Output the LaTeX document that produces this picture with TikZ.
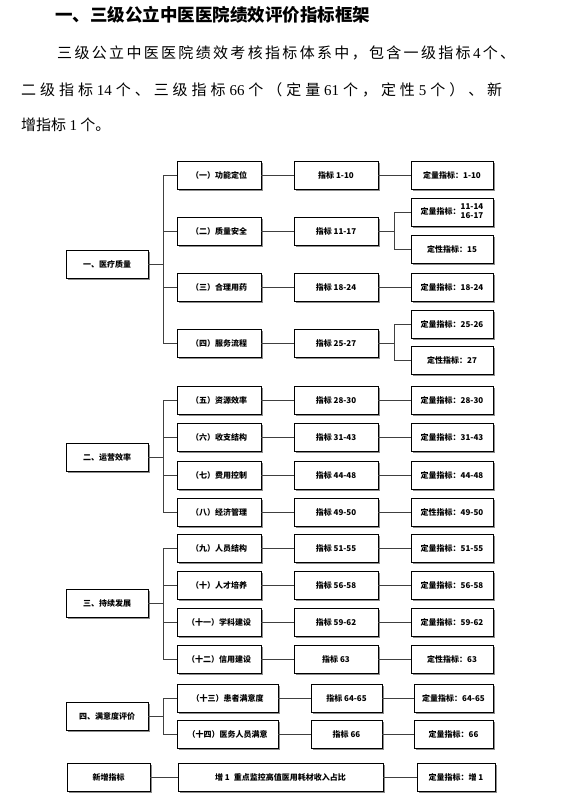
\documentclass[tikz,border=0pt]{standalone}
\usepackage{fontspec}
\newfontfamily\cjk{Noto Sans CJK SC}
\newfontfamily\lat{Liberation Serif}
\usetikzlibrary{positioning,shadows}

% spread the glyphs of a line evenly over a given width
\def\spreadit#1{\spreadA#1\relax}
\def\spreadA#1{\ifx\relax#1\else{#1}\hfil\expandafter\spreadA\fi}

\begin{document}
\begin{tikzpicture}[
      x=1pt, y=-1pt,
      every node/.style={font=\cjk\bfseries\fontsize{8}{9.5}\selectfont},
      box/.style={draw, fill=white, line width=0.75pt, minimum height=28pt, inner sep=1pt,
        drop shadow={shadow xshift=1.6pt, shadow yshift=-1.6pt, fill=black!45, opacity=1}},
      lvlone/.style={box, minimum width=82pt},
      lvltwo/.style={box, minimum width=84pt},
      lvlthree/.style={box, minimum width=84pt},
      lvlfour/.style={box, minimum width=82pt},
      bodytext/.style={anchor=west, inner sep=0pt, font=\cjk\fontsize{15}{18}\selectfont},
      link/.style={draw=black!75, line width=0.75pt},
    ]
    \useasboundingbox[fill=white] (0,0) rectangle (575,812);

    % heading and paragraph
    \node[anchor=west, inner sep=0pt, font=\cjk\bfseries\fontsize{17.5}{20}\selectfont] (title) at (55,15) {一、三级公立中医医院绩效评价指标框架};
    \node[bodytext] (line1) at (57,53) {\hbox to 458pt{\spreadit{三级公立中医医院绩效考核指标体系中，包含一级指标{\lat 4}个、}\unskip}};
    \node[bodytext] (line2) at (21,90) {\hbox to 481pt{\spreadit{二级指标{\lat 14}个、三级指标{\lat 66}个（定量{\lat 61}个，定性{\lat 5}个）、新}\unskip}};
    \node[bodytext] (line3) at (21,125) {增指标 {\lat 1} 个。};

    % 一、医疗质量
    \node[lvlone] (q) at (107,264) {一、医疗质量};
    \node[lvltwo] (q1) at (219,175.5) {（一）功能定位};
    \node[lvltwo] (q2) at (219,231) {（二）质量安全};
    \node[lvltwo] (q3) at (219,287.5) {（三）合理用药};
    \node[lvltwo] (q4) at (219,343) {（四）服务流程};
    \node[lvlthree] (m1) at (336,175.5) {指标 1-10};
    \node[lvlthree] (m2) at (336,231) {指标 11-17};
    \node[lvlthree] (m3) at (336,287.5) {指标 18-24};
    \node[lvlthree] (m4) at (336,343) {指标 25-27};
    \node[lvlfour] (r1) at (452,175.5) {定量指标：1-10};
    \node[lvlfour] (r2a) at (452,212) {定量指标：\begin{tabular}{@{}c@{}}11-14\\[-1pt]16-17\end{tabular}};
    \node[lvlfour] (r2b) at (452,249) {定性指标：15};
    \node[lvlfour] (r3) at (452,287.5) {定量指标：18-24};
    \node[lvlfour] (r4a) at (452,324) {定量指标：25-26};
    \node[lvlfour] (r4b) at (452,360.5) {定性指标：27};

    \foreach \k in {1,...,4}{
      \draw[link] (q.east) -- ++(15,0) |- (q\k.west);
      \draw[link] (q\k.east) -- (m\k.west);
    }
    \draw[link] (m1.east) -- (r1.west);
    \draw[link] (m3.east) -- (r3.west);
    \draw[link] (m2.east) -- ++(16,0) |- (r2a.west);
    \draw[link] (m2.east) -- ++(16,0) |- (r2b.west);
    \draw[link] (m4.east) -- ++(16,0) |- (r4a.west);
    \draw[link] (m4.east) -- ++(16,0) |- (r4b.west);

    % 二、运营效率 and 三、持续发展
    \node[lvlone] (e) at (107,457) {二、运营效率};
    \node[lvlone] (d) at (107,603.5) {三、持续发展};
    \foreach \g/\k/\y/\a/\b/\c in {
        e/5/400/（五）资源效率/指标 28-30/定量指标：28-30,
        e/6/437.5/（六）收支结构/指标 31-43/定量指标：31-43,
        e/7/475/（七）费用控制/指标 44-48/定量指标：44-48,
        e/8/512/（八）经济管理/指标 49-50/定性指标：49-50,
        d/9/548.5/（九）人员结构/指标 51-55/定量指标：51-55,
        d/10/585/（十）人才培养/指标 56-58/定量指标：56-58,
        d/11/622.5/（十一）学科建设/指标 59-62/定量指标：59-62,
        d/12/659.5/（十二）信用建设/指标 63/定性指标：63}{
      \node[lvltwo] (s\k) at (219,\y) {\a};
      \node[lvlthree] (m\k) at (336,\y) {\b};
      \node[lvlfour] (r\k) at (452,\y) {\c};
      \draw[link] (\g.east) -- ++(15,0) |- (s\k.west);
      \draw[link] (s\k.east) -- (m\k.west);
      \draw[link] (m\k.east) -- (r\k.west);
    }

    % 四、满意度评价
    \node[lvlone] (p) at (107,716) {四、满意度评价};
    \node[box, minimum width=101pt] (s13) at (227.5,698) {（十三）患者满意度};
    \node[box, minimum width=101pt] (s14) at (227.5,734.5) {（十四）医务人员满意};
    \node[box, minimum width=71pt] (m13) at (346.5,698) {指标 64-65};
    \node[box, minimum width=71pt] (m14) at (346.5,734.5) {指标 66};
    \node[box, minimum width=79pt] (r13) at (453.5,698) {定量指标：64-65};
    \node[box, minimum width=79pt] (r14) at (453.5,734.5) {定量指标：66};
    \foreach \k in {13,14}{
      \draw[link] (p.east) -- ++(15,0) |- (s\k.west);
      \draw[link] (s\k.east) -- (m\k.west);
      \draw[link] (m\k.east) -- (r\k.west);
    }

    % 新增指标
    \node[box, minimum width=83pt] (n) at (108.5,777) {新增指标};
    \node[box, minimum width=205pt] (nm) at (280.5,777) {增 1\enspace 重点监控高值医用耗材收入占比};
    \node[box, minimum width=78pt] (nr) at (456,777) {定量指标：增 1};
    \draw[link] (n.east) -- (nm.west);
    \draw[link] (nm.east) -- (nr.west);
  \end{tikzpicture}
\end{document}
